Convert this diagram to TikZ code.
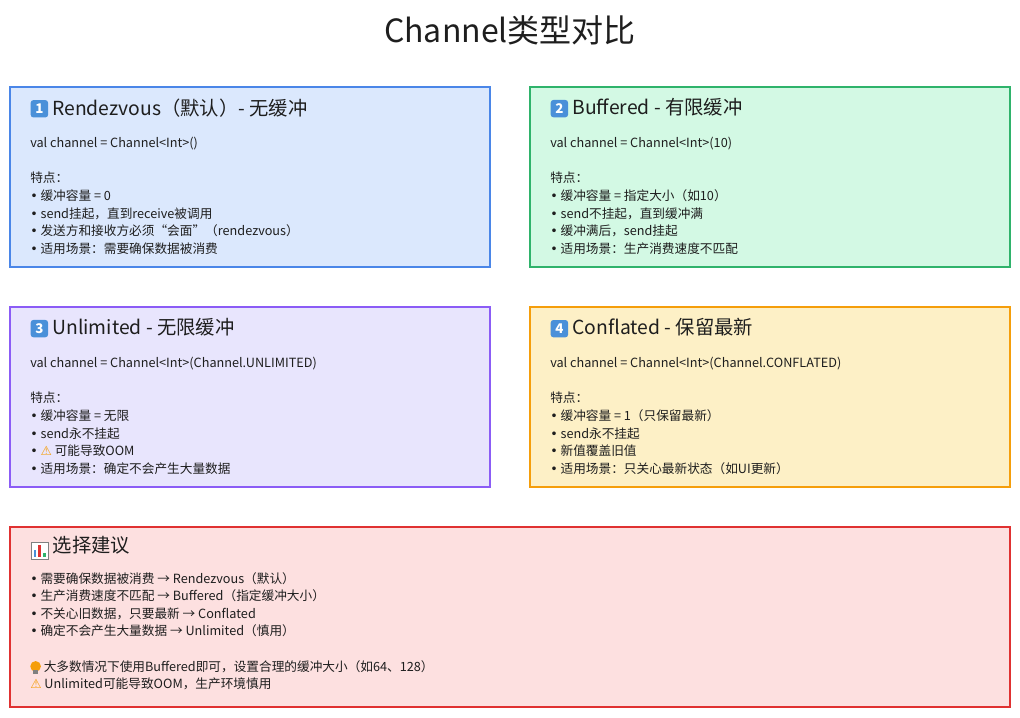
\documentclass[tikz,border=0pt]{standalone}
\usepackage{fontspec}
\setmainfont{Noto Sans CJK SC}
\newfontfamily\symfont{DejaVu Sans}
\usetikzlibrary{positioning}
\definecolor{cardblue}{HTML}{DBE8FD}
\definecolor{lineblue}{HTML}{4A86E8}
\definecolor{cardgreen}{HTML}{D3F9E4}
\definecolor{linegreen}{HTML}{2FB36B}
\definecolor{cardpurple}{HTML}{E8E5FD}
\definecolor{linepurple}{HTML}{8B5CF6}
\definecolor{cardyellow}{HTML}{FDF0C6}
\definecolor{lineyellow}{HTML}{F59E0B}
\definecolor{cardred}{HTML}{FDE0E0}
\definecolor{linered}{HTML}{E03131}
\definecolor{inkgray}{HTML}{1E1E1E}
\definecolor{capblue}{HTML}{4A90D9}
\newcommand{\keycap}[1]{\tikz[baseline=-0.6ex]\node[fill=capblue, rounded corners=2pt, text=white, inner sep=0pt, minimum size=13pt, font=\bfseries\fontsize{10}{10}\selectfont]{#1};}
\newcommand{\warnsign}{{\symfont\color{lineyellow}\symbol{"26A0}}}
\newcommand{\bul}{{\symfont •}\ }
\begin{document}
\begin{tikzpicture}[x=0.75pt, y=-0.75pt,
    card/.style={draw, line width=1.1pt},
    head/.style={anchor=west, text=inkgray, font=\fontsize{14.5}{16}\selectfont},
    body/.style={anchor=north west, text=inkgray, align=left, inner sep=0pt,
                 font=\fontsize{9.5}{13.2}\selectfont}
]
    \useasboundingbox (0,0) rectangle (1020,717);
    % Title
    \node[text=inkgray, font=\fontsize{24}{26}\selectfont] (title) at (510,30) {Channel类型对比};

    % Cards
    \draw[card, draw=lineblue, fill=cardblue] (10,87) rectangle (490,267);
    \draw[card, draw=linegreen, fill=cardgreen] (530,87) rectangle (1010,267);
    \draw[card, draw=linepurple, fill=cardpurple] (10,307) rectangle (490,487);
    \draw[card, draw=lineyellow, fill=cardyellow] (530,307) rectangle (1010,487);
    \draw[card, draw=linered, fill=cardred] (10,527) rectangle (1010,707);

    % Card 1
    \node[head] (h1) at (26,108) {\keycap{1} Rendezvous（默认）- 无缓冲};
    \node[body] (b1) at (30,137) {val channel = Channel<Int>()\\[13.2pt]
        特点：\\
        \bul 缓冲容量 = 0\\
        \bul send挂起，直到receive被调用\\
        \bul 发送方和接收方必须“会面”（rendezvous）\\
        \bul 适用场景：需要确保数据被消费};

    % Card 2
    \node[head] (h2) at (546,108) {\keycap{2} Buffered - 有限缓冲};
    \node[body] (b2) at (550,137) {val channel = Channel<Int>(10)\\[13.2pt]
        特点：\\
        \bul 缓冲容量 = 指定大小（如10）\\
        \bul send不挂起，直到缓冲满\\
        \bul 缓冲满后，send挂起\\
        \bul 适用场景：生产消费速度不匹配};

    % Card 3
    \node[head] (h3) at (26,328) {\keycap{3} Unlimited - 无限缓冲};
    \node[body] (b3) at (30,357) {val channel = Channel<Int>(Channel.UNLIMITED)\\[13.2pt]
        特点：\\
        \bul 缓冲容量 = 无限\\
        \bul send永不挂起\\
        \bul \warnsign\ 可能导致OOM\\
        \bul 适用场景：确定不会产生大量数据};

    % Card 4
    \node[head] (h4) at (546,328) {\keycap{4} Conflated - 保留最新};
    \node[body] (b4) at (550,357) {val channel = Channel<Int>(Channel.CONFLATED)\\[13.2pt]
        特点：\\
        \bul 缓冲容量 = 1（只保留最新）\\
        \bul send永不挂起\\
        \bul 新值覆盖旧值\\
        \bul 适用场景：只关心最新状态（如UI更新）};

    % Advice card
    \node[head] (h5) at (26,548) {\tikz[baseline=5pt]{\draw[fill=white, draw=gray] (0,0) rectangle (13pt,13pt);
        \fill[capblue] (2pt,1.5pt) rectangle (4pt,7pt); \fill[linered] (5.5pt,1.5pt) rectangle (7.5pt,10.5pt);
        \fill[linegreen] (9pt,1.5pt) rectangle (11pt,5pt);}\ 选择建议};
    \node[body] (b5) at (30,572) {\bul 需要确保数据被消费 → Rendezvous（默认）\\
        \bul 生产消费速度不匹配 → Buffered（指定缓冲大小）\\
        \bul 不关心旧数据，只要最新 → Conflated\\
        \bul 确定不会产生大量数据 → Unlimited（慎用）\\[13.2pt]
        \tikz[baseline=-0.3ex]{\fill[lineyellow] (0,2pt) circle (4pt); \fill[gray] (-2pt,-3.5pt) rectangle (2pt,-1pt);}\ 大多数情况下使用Buffered即可，设置合理的缓冲大小（如64、128）\\
        \warnsign\ Unlimited可能导致OOM，生产环境慎用};
\end{tikzpicture}
\end{document}
